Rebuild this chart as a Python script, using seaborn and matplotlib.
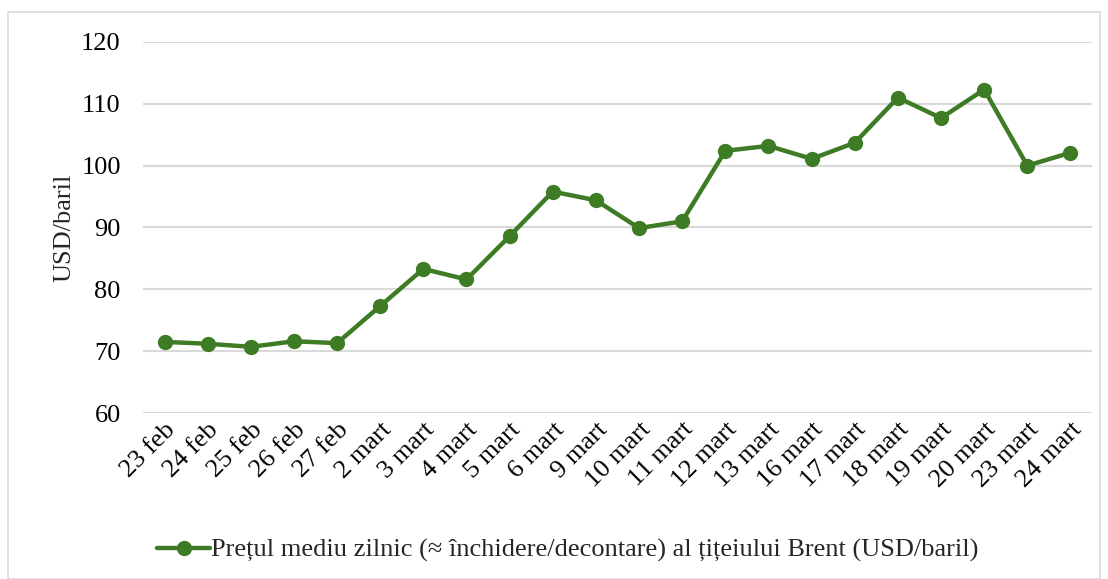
import matplotlib
matplotlib.use("Agg")
import matplotlib.pyplot as plt
import seaborn as sns
import pandas as pd
from matplotlib.patches import Rectangle

dates = ["23 feb", "24 feb", "25 feb", "26 feb", "27 feb", "2 mart", "3 mart",
         "4 mart", "5 mart", "6 mart", "9 mart", "10 mart", "11 mart", "12 mart",
         "13 mart", "16 mart", "17 mart", "18 mart", "19 mart", "20 mart",
         "23 mart", "24 mart"]
prices = [71.5, 71.2, 70.7, 71.6, 71.3, 77.3, 83.3, 81.6, 88.6, 95.8, 94.4,
          89.9, 91.0, 102.4, 103.2, 101.1, 103.7, 111.0, 107.7, 112.3, 100.0, 102.1]
series_name = "Prețul mediu zilnic (≈ închidere/decontare) al țițeiului Brent (USD/baril)"

df = pd.DataFrame({"data": dates, "pret": prices})

sns.set_theme(style="white")
plt.rcParams["font.family"] = ["Liberation Serif", "DejaVu Serif"]

green = "#3d7c24"
fs = 19

fig = plt.figure(figsize=(11.08, 5.79), dpi=100)
ax = fig.add_axes([0.129, 0.2867, 0.8566, 0.6408])

sns.lineplot(data=df, x="data", y="pret", ax=ax, color=green, linewidth=3.2,
             marker="o", markersize=11, markeredgewidth=0, label=series_name,
             sort=False)

ax.set_ylim(60, 120)
ax.set_yticks(range(60, 121, 10))
ax.set_xlim(-0.5, len(dates) - 0.5)
ax.yaxis.grid(True, color="#d9d9d9", linewidth=1.5)
ax.set_axisbelow(True)
for s in ax.spines.values():
    s.set_visible(False)
ax.tick_params(axis="both", length=0, labelsize=fs, colors="black")
ax.tick_params(axis="y", pad=16)
ax.tick_params(axis="x", pad=4)
plt.setp(ax.get_xticklabels(), rotation=45, ha="right", rotation_mode="anchor")
ax.set_xlabel("")
ax.set_ylabel("USD/baril", fontsize=fs, labelpad=4)

ax.legend(loc="center", bbox_to_anchor=(0.448, -0.37), frameon=False, fontsize=fs,
          handlelength=2.0, handletextpad=0.05)

fig.patches.append(Rectangle((0.0075, 0.0), 0.985, 0.98, transform=fig.transFigure,
                             fill=False, edgecolor="#d9d9d9", linewidth=1.2))

fig.savefig("out.png", dpi=100)
